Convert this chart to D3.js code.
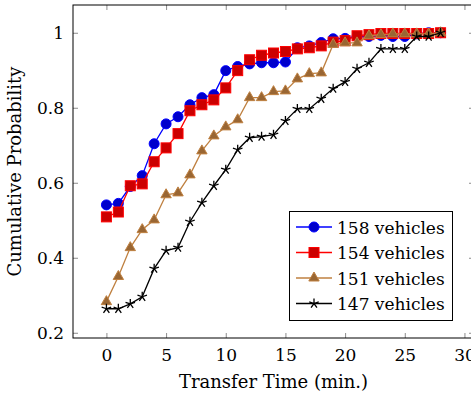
<!DOCTYPE html>
<html>
<head>
<meta charset="utf-8">
<script src="https://cdn.jsdelivr.net/npm/d3@7"></script>
<style>
  html, body { margin: 0; padding: 0; background: #fff; }
  svg text { font-family: "DejaVu Serif", "Liberation Serif", "Times New Roman", serif; }
</style>
</head>
<body>
<svg id="chart" width="471" height="394"></svg>
<script>
// Transfer time in minutes (x values shared by all series)
const minutes = d3.range(0, 29);

// Cumulative probability per fleet size
const v158 = [0.541, 0.545, 0.59, 0.619, 0.704, 0.757, 0.776, 0.808, 0.827, 0.835,
              0.899, 0.91, 0.917, 0.92, 0.92, 0.922, 0.96, 0.965, 0.974, 0.984,
              0.985, 0.99, 0.99, 0.993, 0.99, 0.99, 0.997, 1.0, 1.0];
const v154 = [0.509, 0.522, 0.592, 0.597, 0.656, 0.693, 0.731, 0.792, 0.808, 0.821,
              0.853, 0.899, 0.928, 0.94, 0.946, 0.95, 0.957, 0.96, 0.965, 0.975,
              0.979, 0.992, 0.995, 0.998, 0.998, 0.998, 0.998, 0.998, 1.0];
const v151 = [0.283, 0.35, 0.427, 0.475, 0.501, 0.568, 0.573, 0.621, 0.685, 0.725,
              0.749, 0.768, 0.827, 0.827, 0.843, 0.845, 0.877, 0.891, 0.893, 0.969,
              0.973, 0.973, 0.992, 0.995, 0.997, 0.997, 0.997, 0.997, 1.0];
const v147 = [0.264, 0.264, 0.277, 0.296, 0.371, 0.419, 0.427, 0.496, 0.547, 0.592,
              0.635, 0.688, 0.72, 0.723, 0.728, 0.765, 0.797, 0.797, 0.824, 0.851,
              0.869, 0.904, 0.92, 0.957, 0.957, 0.957, 0.99, 0.99, 1.0];

const seriesNames = ["158 vehicles", "154 vehicles", "151 vehicles", "147 vehicles"];
const xTicks = [0, 5, 10, 15, 20, 25, 30];
const yTicks = [0.2, 0.4, 0.6, 0.8, 1.0];

const styles = [
  { line: "#0000ff", fill: "#0000cc", mark: "circle" },
  { line: "#ff0000", fill: "#cc0000", mark: "square" },
  { line: "#bf8040", fill: "#996633", mark: "triangle" },
  { line: "#000000", fill: "#000000", mark: "star" }
];
const seriesValues = [v158, v154, v151, v147];

const svg = d3.select("#chart");
const pLeft = 73, pRight = 474, pTop = 5, pBottom = 338;

const x = d3.scaleLinear().domain([-2.8, 30.8]).range([pLeft, pRight]);
const y = d3.scaleLinear().domain([0.186, 1.074]).range([pBottom, pTop]);

// Marker drawing
function drawMark(g, type, fill, stroke, cx, cy) {
  if (type === "circle") {
    g.append("circle").attr("cx", cx).attr("cy", cy).attr("r", 5)
      .attr("fill", fill).attr("stroke", stroke).attr("stroke-width", 1);
  } else if (type === "square") {
    g.append("rect").attr("x", cx - 5).attr("y", cy - 5).attr("width", 10).attr("height", 10)
      .attr("fill", fill).attr("stroke", stroke).attr("stroke-width", 1);
  } else if (type === "triangle") {
    const r = 6;
    const pts = [[cx, cy - r], [cx - r * 0.866, cy + r * 0.5], [cx + r * 0.866, cy + r * 0.5]];
    g.append("polygon").attr("points", pts.map(p => p.join(",")).join(" "))
      .attr("fill", fill).attr("stroke", stroke).attr("stroke-width", 1);
  } else if (type === "star") {
    const r = 5;
    let d = "";
    for (let k = 0; k < 5; k++) {
      const a = -Math.PI / 2 + k * 2 * Math.PI / 5;
      d += `M${cx},${cy}L${cx + r * Math.cos(a)},${cy + r * Math.sin(a)}`;
    }
    g.append("path").attr("d", d).attr("stroke", stroke).attr("stroke-width", 1.3).attr("fill", "none");
  }
}

// Clip region for the data
svg.append("clipPath").attr("id", "clip").append("rect")
  .attr("x", pLeft).attr("y", pTop).attr("width", pRight - pLeft).attr("height", pBottom - pTop);

// Axes frame with inward ticks on all four sides
const axisG = svg.append("g");
const xAxisB = d3.axisBottom(x).tickValues(xTicks).tickSize(-5).tickFormat(d3.format("d")).tickPadding(11);
const xAxisT = d3.axisTop(x).tickValues(xTicks).tickSize(-5).tickFormat("");
const yAxisL = d3.axisLeft(y).tickValues(yTicks).tickSize(-5).tickFormat(d => d === 1 ? "1" : d3.format(".1f")(d)).tickPadding(9);
const yAxisR = d3.axisRight(y).tickValues(yTicks).tickSize(-5).tickFormat("");

function styleAxis(sel) {
  sel.attr("font-family", null).attr("font-size", null);
  sel.select(".domain").remove();
  sel.selectAll(".tick line").attr("stroke", "#8c8c8c").attr("stroke-width", 1);
  sel.selectAll(".tick text").attr("fill", "#000").style("font-size", "17px");
}
axisG.append("g").attr("transform", `translate(0,${pBottom})`).call(xAxisB).call(styleAxis);
axisG.append("g").attr("transform", `translate(0,${pTop})`).call(xAxisT).call(styleAxis);
axisG.append("g").attr("transform", `translate(${pLeft},0)`).call(yAxisL).call(styleAxis);
axisG.append("g").attr("transform", `translate(${pRight},0)`).call(yAxisR).call(styleAxis);

// Series lines and markers
const plot = svg.append("g").attr("clip-path", "url(#clip)");
const line = d3.line().x((d, i) => x(minutes[i])).y(d => y(d));
seriesValues.forEach((vals, si) => {
  const st = styles[si];
  const g = plot.append("g");
  g.append("path").datum(vals).attr("d", line).attr("fill", "none")
    .attr("stroke", st.line).attr("stroke-width", 1.3);
  vals.forEach((v, i) => drawMark(g, st.mark, st.fill, st.line, x(minutes[i]), y(v)));
});

svg.append("rect").attr("x", pLeft).attr("y", pTop).attr("width", pRight - pLeft).attr("height", pBottom - pTop)
  .attr("fill", "none").attr("stroke", "#000").attr("stroke-width", 1);

// Axis titles
svg.append("text").attr("x", (pLeft + pRight) / 2).attr("y", 388).attr("text-anchor", "middle")
  .style("font-size", "18px").text("Transfer Time (min.)");
svg.append("text").attr("transform", `translate(21,${(pTop + pBottom) / 2}) rotate(-90)`)
  .attr("text-anchor", "middle").style("font-size", "18px").text("Cumulative Probability");

// Legend
const lg = svg.append("g");
lg.append("rect").attr("x", 289.5).attr("y", 211.5).attr("width", 163).attr("height", 109)
  .attr("fill", "#fff").attr("stroke", "#000").attr("stroke-width", 1);
seriesNames.forEach((name, i) => {
  const st = styles[i];
  const cy = 227 + i * 25.5;
  lg.append("line").attr("x1", 296).attr("x2", 332).attr("y1", cy).attr("y2", cy)
    .attr("stroke", st.line).attr("stroke-width", 1.3);
  drawMark(lg, st.mark, st.fill, st.line, 314, cy);
  lg.append("text").attr("x", 337).attr("y", cy + 6.5).style("font-size", "17px").text(name);
});
</script>
</body>
</html>
